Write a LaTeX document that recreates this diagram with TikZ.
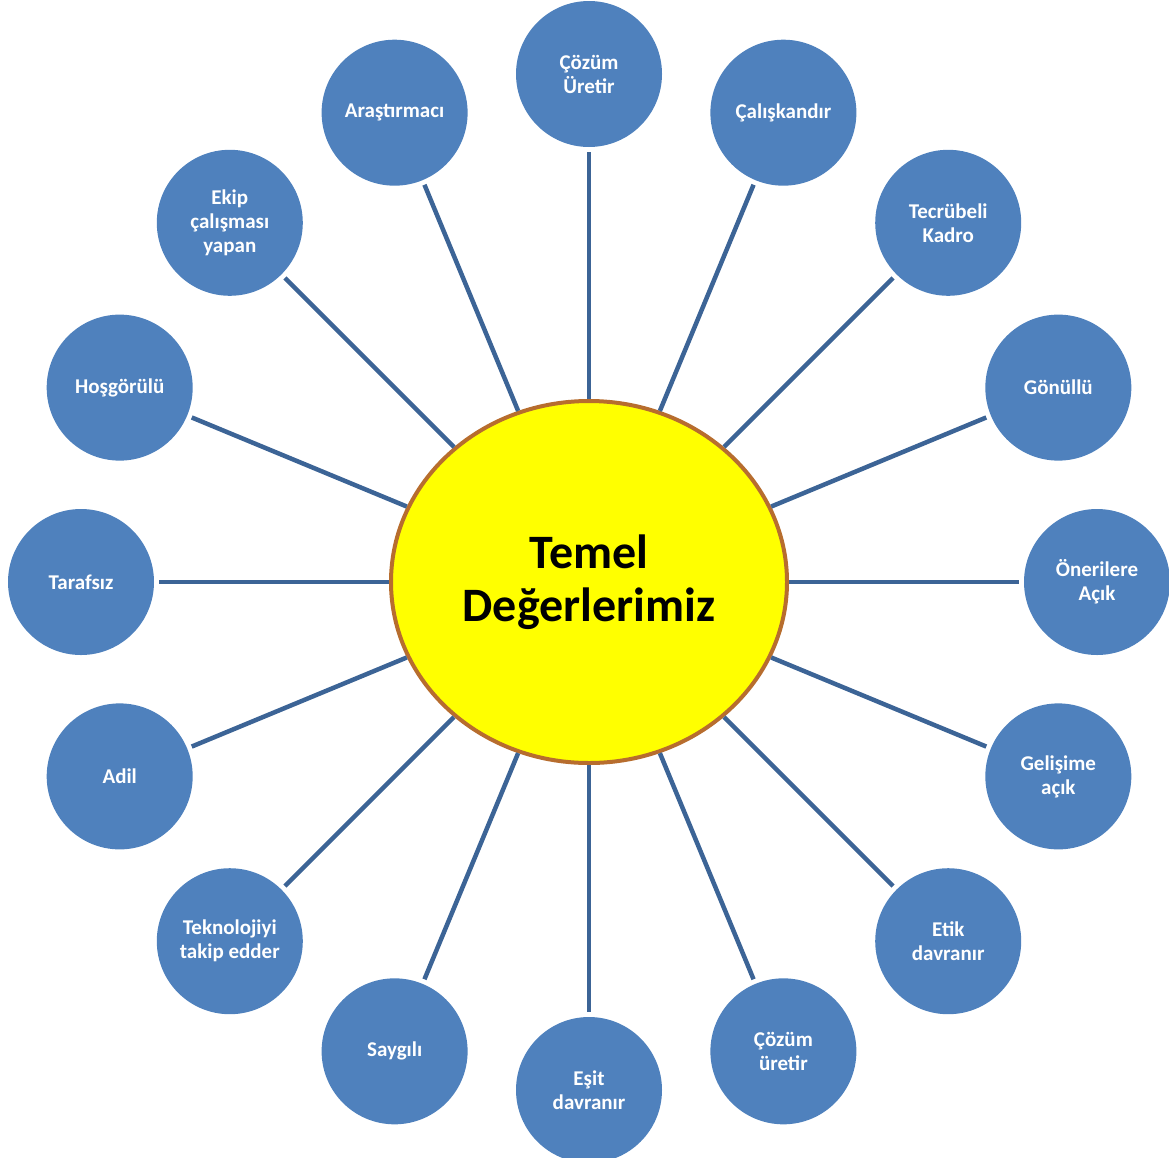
\documentclass[tikz,border=0pt]{standalone}
\usepackage{fontspec}
\setmainfont{Carlito}
\usetikzlibrary{shapes.geometric}
\definecolor{bubble}{HTML}{4F81BD}
\definecolor{connc}{HTML}{3C6496}
\definecolor{rimc}{HTML}{B76D2E}
\definecolor{hubfill}{HTML}{FFFF00}
\tikzset{
  bubble/.style={circle, fill=bubble, minimum size=146pt, inner sep=0pt, outer sep=0pt,
    text=white, align=center, font=\fontsize{21}{24}\selectfont\bfseries},
  hub/.style={ellipse, fill=hubfill, draw=rimc, line width=4pt, minimum width=396pt, minimum height=362pt,
    align=center, font=\fontsize{48}{53}\selectfont\bfseries},
  conn/.style={draw=connc, line width=4.5pt, shorten >=5pt}
}
\begin{document}
\begin{tikzpicture}[x=1pt,y=-1pt]
\useasboundingbox (0,0) rectangle (1169,1157);
\node[hub] (c) at (589,582) {Temel\\Değerlerimiz};
\foreach \a/\t [count=\i] in {90/{Çözüm\\Üretir}, 67.5/{Çalışkandır}, 45/{Tecrübeli\\Kadro}, 22.5/{Gönüllü},
  0/{Önerilere\\Açık}, -22.5/{Gelişime\\açık}, -45/{Etik\\davranır}, -67.5/{Çözüm\\üretir},
  -90/{Eşit\\davranır}, -112.5/{Saygılı}, -135/{Teknolojiyi\\takip edder}, -157.5/{Adil},
  180/{Tarafsız}, 157.5/{Hoşgörülü}, 135/{Ekip\\çalışması\\yapan}, 112.5/{Araştırmacı}}{
  \node[bubble] (n\i) at ({589+508*cos(\a)},{582-508*sin(\a)}) {\t};
  \draw[conn] (c) -- (n\i);
}
\end{tikzpicture}
\end{document}
